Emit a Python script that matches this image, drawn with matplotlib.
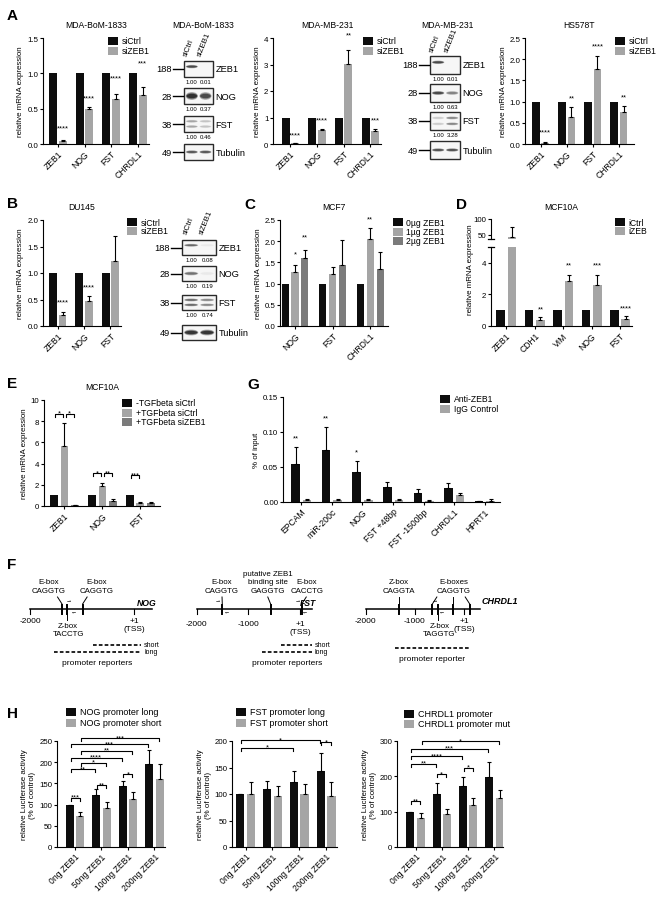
import numpy as np
import matplotlib
matplotlib.use('Agg')
import matplotlib.pyplot as plt
from matplotlib.patches import Rectangle, Ellipse

plt.rcParams['font.family'] = ['Liberation Sans', 'DejaVu Sans']
plt.rcParams['axes.linewidth'] = 0.8

W, H = 660, 904
BLACK, LIGHT, DARK = '#0d0d0d', '#a5a5a5', '#7b7b7b'

# ---------------- data ----------------
# A - qPCR after ZEB1 knockdown
genes_a = ['ZEB1', 'NOG', 'FST', 'CHRDL1']
ctrl_a = [1.0, 1.0, 1.0, 1.0]
bom_si = [0.04, 0.49, 0.63, 0.69]
bom_err = [0.01, 0.04, 0.08, 0.11]
bom_stars = ['****', '****', '****', '***']
bom_star_y = [0.26, 0.69, 0.97, 1.18]
mb231_si = [0.02, 0.52, 3.02, 0.50]
mb231_err = [0.01, 0.04, 0.52, 0.06]
mb231_stars = ['****', '****', '**', '***']
mb231_star_y = [0.44, 1.0, 4.2, 1.0]
hs_si = [0.03, 0.64, 1.78, 0.75]
hs_err = [0.01, 0.24, 0.30, 0.15]
hs_stars = ['****', '**', '****', '**']
hs_star_y = [0.35, 1.14, 2.37, 1.18]

# western blots
blot_rows = ['ZEB1', 'NOG', 'FST', 'Tubulin']
blot_kda = ['188', '28', '38', '49']
blot_lanes = ['siCtrl', 'siZEB1']
bom_quant = [['1.00', '0.01'], ['1.00', '0.37'], ['1.00', '0.46']]
mb231_quant = [['1.00', '0.01'], ['1.00', '0.63'], ['1.00', '3.28']]
du_quant = [['1.00', '0.08'], ['1.00', '0.19'], ['1.00', '0.74']]
bom_bands = [[0.8, 0.0], [1.0, 0.8], [0.3, 0.18], [0.7, 0.7]]
mb231_bands = [[0.8, 0.0], [0.8, 0.45], [0.15, 0.45], [0.75, 0.75]]
du_bands = [[0.6, 0.04], [0.55, 0.04], [0.6, 0.45], [0.95, 0.95]]

# B - DU145
genes_b = ['ZEB1', 'NOG', 'FST']
ctrl_b = [1.0, 1.0, 1.0]
du_si = [0.20, 0.48, 1.22]
du_err = [0.07, 0.09, 0.47]
du_stars = ['****', '****']
du_star_y = [0.50, 0.79]

# C - MCF7 ZEB1 overexpression
genes_c = ['NOG', 'FST', 'CHRDL1']
c_names = ['0\u00b5g ZEB1', '1\u00b5g ZEB1', '2\u00b5g ZEB1']
c_0 = [1.0, 1.0, 1.0]
c_1 = [1.28, 1.22, 2.06]
c_1_err = [0.15, 0.16, 0.26]
c_2 = [1.60, 1.44, 1.34]
c_2_err = [0.20, 0.59, 0.41]
c_stars = [(0, 1, '*', 1.77), (0, 2, '**', 2.16), (2, 1, '**', 2.59)]

# D - MCF10A inducible ZEB1
genes_d = ['ZEB1', 'CDH1', 'VIM', 'NOG', 'FST']
d_ctrl = [1.0, 1.0, 1.0, 1.0, 1.0]
d_izeb = [43.0, 0.39, 2.82, 2.60, 0.47]
d_err = [33.0, 0.21, 0.38, 0.65, 0.17]
d_stars = ['', '**', '**', '***', '****']
d_star_y = [0, 1.28, 4.06, 4.06, 1.33]

# E - MCF10A TGFbeta
genes_e = ['ZEB1', 'NOG', 'FST']
e_names = ['-TGFbeta siCtrl', '+TGFbeta siCtrl', '+TGFbeta siZEB1']
e_minus = [1.0, 1.0, 1.0]
e_plus = [5.66, 1.89, 0.25]
e_plus_err = [2.2, 0.31, 0.13]
e_si = [0.10, 0.47, 0.31]
e_si_err = [0.03, 0.16, 0.09]
e_brackets = [((0, 0), (0, 1), 8.7, '*'), ((0, 1), (0, 2), 8.7, '*'),
              ((1, 0), (1, 1), 3.1, '*'), ((1, 1), (1, 2), 3.1, '**'),
              ((2, 0), (2, 1), 2.9, '***')]

# G - ChIP
sites_g = ['EPCAM', 'miR-200c', 'NOG', 'FST +48bp', 'FST -1500bp', 'CHRDL1', 'HPRT1']
g_names = ['Anti-ZEB1', 'IgG Control']
g_anti = [0.055, 0.074, 0.043, 0.021, 0.013, 0.020, 0.001]
g_anti_err = [0.024, 0.033, 0.015, 0.008, 0.005, 0.007, 0.0005]
g_igg = [0.003, 0.003, 0.003, 0.003, 0.0015, 0.0095, 0.002]
g_igg_err = [0.0015, 0.0015, 0.0015, 0.0015, 0.001, 0.0035, 0.002]
g_stars = ['**', '**', '*']
g_star_y = [0.095, 0.124, 0.075]

# F - promoter maps (bp relative to TSS)
nog_sites = [-1390, -1294, -994]
nog_labels = [('E-box\nCAGGTG', -1640, 'up', [-1390]),
              ('Z-box\nTACCTG', -1269, 'down', [-1294]),
              ('E-box\nCAGGTG', -723, 'up', [-994])]
nog_primers = [-1269, -1154]
nog_reporters = [('short', -795, 130), ('long', -1550, 130)]
fst_sites = [-1505, -570, 32]
fst_labels = [('E-box\nCAGGTG', -1510, 'up', [-1505]),
              ('putative ZEB1\nbinding site\nGAGGTG', -625, 'up', [-570]),
              ('E-box\nCACCTG', 135, 'up', [32])]
fst_primers = [-1586, -1423, -45, 95]
fst_reporters = [('short', -375, 224), ('long', -731, 224)]
chrdl1_sites = [-1324, -648, -526, -222, 110]
chrdl1_labels = [('Z-box\nCAGGTA', -1324, 'up', [-1324]),
                 ('E-boxes\nCAGGTG', -222, 'up', [-648, -222, 110]),
                 ('Z-box\nTAGGTG', -506, 'down', [-526])]
chrdl1_primers = [-594, -458]
chrdl1_reporters = [('', -1406, 95)]

# H - luciferase reporters
doses = ['0ng ZEB1', '50ng ZEB1', '100ng ZEB1', '200ng ZEB1']
nog_long = [100, 122, 143, 195]
nog_long_err = [0, 15, 12, 34]
nog_short = [74, 91, 113, 160]
nog_short_err = [9, 14, 17, 35]
nog_br = [((0, 0), (0, 1), 116, '***'), ((1, 0), (1, 1), 146, '**'), ((2, 0), (2, 1), 172, '*'),
          ((0, 0), (1, 0), 184, '**'), ((0, 1), (1, 1), 199, '*'), ((0, 0), (2, 0), 211, '****'),
          ((0, 1), (2, 1), 227, '**'), ((0, 0), (3, 0), 242, '***'), ((0, 1), (3, 1), 256, '***')]
fst_long = [100, 109, 123, 143]
fst_long_err = [0, 16, 21, 34]
fst_short = [100, 97, 100, 97]
fst_short_err = [22, 19, 19, 25]
fst_br = [((0, 0), (2, 0), 187, '*'), ((0, 0), (3, 0), 201, '*'), ((3, 0), (3, 1), 198, '*')]
chr_wt = [100, 149, 173, 198]
chr_wt_err = [0, 33, 25, 42]
chr_mut = [81, 92, 118, 138]
chr_mut_err = [16, 16, 22, 23]
chr_br = [((0, 0), (0, 1), 130, '**'), ((1, 0), (1, 1), 206, '*'), ((2, 0), (2, 1), 224, '*'),
          ((0, 0), (1, 0), 236, '**'), ((0, 0), (2, 0), 257, '****'), ((0, 0), (3, 0), 278, '***'),
          ((0, 1), (3, 1), 300, '*')]

# ---------------- helpers ----------------
fig = plt.figure(figsize=(W / 100, H / 100), dpi=100)
canvas = fig.add_axes([0, 0, 1, 1])
canvas.set_xlim(0, W)
canvas.set_ylim(H, 0)
canvas.axis('off')
canvas.set_zorder(10)


def px_axes(x0, y0, x1, y1):
    return fig.add_axes([x0 / W, 1 - y1 / H, (x1 - x0) / W, (y1 - y0) / H])


def bar_panel(box, cats, series, errs, colors, width, offsets, xlim, ylim, yticks, ytl,
              ylabel='relative mRNA expression', rot=45):
    ax = px_axes(*box)
    for vals, err, col, off in zip(series, errs, colors, offsets):
        x = np.arange(len(vals)) + off
        ax.bar(x, vals, width, color=col, lw=0, zorder=2)
        if err is not None:
            ax.errorbar(x, vals, yerr=[np.zeros(len(vals)), err], fmt='none', ecolor='black',
                        elinewidth=0.8, capsize=1.5, capthick=0.8, zorder=3)
    ax.set_xlim(*xlim)
    ax.set_ylim(*ylim)
    ax.set_yticks(yticks)
    ax.set_yticklabels(ytl)
    ax.set_xticks(np.arange(len(cats)))
    ax.set_xticklabels(cats, rotation=rot, ha='right', rotation_mode='anchor')
    for s in ('top', 'right'):
        ax.spines[s].set_visible(False)
    ax.tick_params(length=2.2, width=0.8, pad=1.2, labelsize=5.7)
    ax.tick_params(axis='x', labelsize=6.2)
    if ylabel:
        ax.set_ylabel(ylabel, fontsize=5.7, labelpad=2)
    return ax


def star(ax, x, y, s):
    ax.annotate(s, (x, y), xytext=(0, -3.0), textcoords='offset points', ha='center',
                va='baseline', fontsize=5.4, annotation_clip=False)


def bracket(ax, offsets, a, b, y, s):
    x1 = a[0] + offsets[a[1]] + 0.03
    x2 = b[0] + offsets[b[1]] - 0.03
    leg = 3 * np.diff(ax.get_ylim())[0] / (ax.get_position().height * H)
    ax.plot([x1, x1, x2, x2], [y - leg, y, y, y - leg], color='black', lw=0.8, clip_on=False)
    ax.annotate(s, ((x1 + x2) / 2, y), xytext=(0, -0.7), textcoords='offset points', ha='center',
                va='baseline', fontsize=5.5, annotation_clip=False)


def legend(x, ys, labels, colors, size=6.2, w=10):
    for y, lab, col in zip(ys, labels, colors):
        canvas.add_patch(Rectangle((x, y - 4), w, 8, color=col, lw=0))
        canvas.text(x + w + 3.5, y, lab, va='center', ha='left', fontsize=size)


def band(cx, cy, w, h, s):
    if s <= 0.02:
        return
    for k, a in ((1.0, 0.25), (0.8, 0.35), (0.55, 0.6)):
        canvas.add_patch(Ellipse((cx, cy), w * (0.7 + 0.3 * k), h * k, facecolor='black',
                                 alpha=min(1.0, a * s), lw=0))


def blot(x0, x1, tops, row_h, bands, quants, band_h, lane_y):
    lanes = [x0 + (x1 - x0) * 0.27, x0 + (x1 - x0) * 0.74]
    for r, top in enumerate(tops):
        canvas.add_patch(Rectangle((x0, top), x1 - x0, row_h, facecolor='#f6f6f6',
                                   edgecolor='#2a2a2a', lw=1.0))
        cy = top + row_h / 2
        ys = [top + row_h * 0.33, top + row_h * 0.66] if blot_rows[r] == 'FST' else \
             [top + row_h * (0.35 if r == 0 else 0.5)]
        for lx, s in zip(lanes, bands[r]):
            for by in ys:
                band(lx, by, (x1 - x0) * 0.42, band_h[r], s)
        canvas.plot([x0 - 11, x0 - 1], [cy, cy], color='black', lw=1.0)
        canvas.text(x0 - 12, cy, blot_kda[r], ha='right', va='center', fontsize=6.7)
        canvas.text(x1 + 2.5, cy, blot_rows[r], ha='left', va='center', fontsize=6.7)
        if r < len(quants):
            for lx, q in zip(lanes, quants[r]):
                canvas.text(lx, top + row_h + 4.5, q, ha='center', va='center', fontsize=4.3)
    for lx, lab in zip(lanes, blot_lanes):
        canvas.text(lx - 3, lane_y, lab, rotation=68, ha='left', va='bottom',
                    rotation_mode='anchor', fontsize=5.7)


def promoter(x_m2000, scale, end_bp, ticks, sites, labels, primers, reporters, gene, gene_left,
             tick_y=618, rep_label='promoter reporters', rep_y=(646, 653), line_y=610):
    def px(bp):
        return x_m2000 + (bp + 2000) * scale
    canvas.plot([px(-2000), px(end_bp)], [line_y, line_y], color='black', lw=1.1)
    for t in ticks:
        canvas.plot([px(t)] * 2, [line_y, line_y + 5], color='black', lw=0.8)
        lab = '+1\n(TSS)' if t == 1 else str(t)
        canvas.text(px(t), tick_y, lab, ha='center', va='top', fontsize=6, linespacing=1.3)
    for s in sites:
        canvas.plot([px(s)] * 2, [line_y - 4.5, line_y + 4.5], color='black', lw=1.4)
    for text, lbp, side, sl in labels:
        lx = px(lbp)
        if side == 'up':
            canvas.text(lx, 595, text, ha='center', va='bottom', fontsize=5.7, linespacing=1.3)
            for s in sl:
                sx = px(s)
                dx = np.clip(lx - sx, -4.5, 4.5)
                canvas.plot([sx + dx, sx], [598, 605], color='black', lw=0.7)
        else:
            canvas.text(lx, 623, text, ha='center', va='top', fontsize=5.7, linespacing=1.3)
            for s in sl:
                canvas.plot([px(s)] * 2, [614, 621], color='black', lw=0.7)
    for i, p in enumerate(primers):
        canvas.text(px(p), 602 if i % 2 == 0 else 613, '\u21c0' if i % 2 == 0 else '\u21bd',
                    ha='center', va='center', fontsize=3.5, family='DejaVu Sans')
    for (name, b0, b1), ry in zip(reporters, rep_y):
        canvas.plot([px(b0), px(b1)], [ry, ry], color='black', lw=1.2, dashes=(2.2, 1.3))
        if name:
            canvas.text(px(b1) + 3, ry, name, ha='left', va='center', fontsize=5)
    b0, b1 = reporters[-1][1], reporters[-1][2]
    canvas.text((px(b0) + px(b1)) / 2, rep_y[len(reporters) - 1] + 11, rep_label, ha='center',
                va='center', fontsize=6)
    if gene_left:
        canvas.text(px(end_bp) + 1, 602, gene, ha='left', va='center', fontsize=6.5,
                    fontweight='bold', style='italic')
    else:
        canvas.text(px(end_bp) + 4, 603.5, gene, ha='right', va='center', fontsize=6.2,
                    fontweight='bold', style='italic')


def title(box, y, text):
    canvas.text((box[0] + box[2]) / 2, y, text, ha='center', va='center', fontsize=6.2)


# ---------------- panel A ----------------
two = (-0.18, 0.18)
box = (43, 39, 149, 145)
ax = bar_panel(box, genes_a, [ctrl_a, bom_si], [None, bom_err], [BLACK, LIGHT], 0.3, two,
               (-0.56, 3.42), (0, 1.5), [0, 0.5, 1.0, 1.5], ['0.0', '0.5', '1.0', '1.5'])
for i, (s, y) in enumerate(zip(bom_stars, bom_star_y)):
    star(ax, i + two[1], y, s)
title(box, 25, 'MDA-BoM-1833')
legend(108, [42, 52], ['siCtrl', 'siZEB1'], [BLACK, LIGHT])

box = (273, 39, 381, 145)
ax = bar_panel(box, genes_a, [ctrl_a, mb231_si], [None, mb231_err], [BLACK, LIGHT], 0.3, two,
               (-0.65, 3.4), (0, 4), [0, 1, 2, 3, 4], ['0', '1', '2', '3', '4'])
for i, (s, y) in enumerate(zip(mb231_stars, mb231_star_y)):
    star(ax, i + two[1], y, s)
title(box, 25, 'MDA-MB-231')
legend(363, [42, 52], ['siCtrl', 'siZEB1'], [BLACK, LIGHT])

box = (525, 39, 634, 145)
ax = bar_panel(box, genes_a, [ctrl_a, hs_si], [None, hs_err], [BLACK, LIGHT], 0.3, two,
               (-0.6, 3.58), (0, 2.5), [0, 0.5, 1.0, 1.5, 2.0, 2.5],
               ['0.0', '0.5', '1.0', '1.5', '2.0', '2.5'])
for i, (s, y) in enumerate(zip(hs_stars, hs_star_y)):
    star(ax, i + two[1], y, s)
title(box, 25, 'HS578T')
legend(615, [42, 52], ['siCtrl', 'siZEB1'], [BLACK, LIGHT])

canvas.text(203, 25, 'MDA-BoM-1833', ha='center', va='center', fontsize=6.2)
blot(184, 213, [62, 89, 117, 145], 16, bom_bands, bom_quant, [3.5, 8, 3, 3.5], 58)
canvas.text(447, 25, 'MDA-MB-231', ha='center', va='center', fontsize=6.2)
blot(430, 460, [57, 85, 113, 142], 18, mb231_bands, mb231_quant, [3.5, 4, 3, 3.5], 54)

# ---------------- panel B ----------------
box = (43, 221, 121, 327)
ax = bar_panel(box, genes_b, [ctrl_b, du_si], [None, du_err], [BLACK, LIGHT], 0.3, two,
               (-0.56, 2.4), (0, 2.0), [0, 0.5, 1.0, 1.5, 2.0], ['0.0', '0.5', '1.0', '1.5', '2.0'])
for i, (s, y) in enumerate(zip(du_stars, du_star_y)):
    star(ax, i + two[1], y, s)
title(box, 207, 'DU145')
legend(127, [223, 232], ['siCtrl', 'siZEB1'], [BLACK, LIGHT])
blot(182, 216, [241, 267, 296, 326], 15, du_bands, du_quant, [3, 4, 3, 6], 236)

# ---------------- panel C ----------------
three_c = (-0.26, 0.0, 0.26)
box = (280, 221, 388, 327)
ax = bar_panel(box, genes_c, [c_0, c_1, c_2], [None, c_1_err, c_2_err], [BLACK, LIGHT, DARK],
               0.19, three_c, (-0.4, 2.47), (0, 2.5), [0, 0.5, 1.0, 1.5, 2.0, 2.5],
               ['0.0', '0.5', '1.0', '1.5', '2.0', '2.5'])
for g, sidx, s, y in c_stars:
    star(ax, g + three_c[sidx], y, s)
title(box, 207, 'MCF7')
legend(393, [223, 232.5, 242], c_names, [BLACK, LIGHT, DARK])

# ---------------- panel D (broken axis) ----------------
two_d = (-0.2, 0.2)
box = (491, 248, 632, 327)
ax_lo = bar_panel(box, genes_d, [d_ctrl, d_izeb], [None, d_err], [BLACK, LIGHT], 0.3, two_d,
                  (-0.54, 4.42), (0, 5), [0, 2, 4], ['0', '2', '4'], ylabel=None)
for i, (s, y) in enumerate(zip(d_stars, d_star_y)):
    if s:
        star(ax_lo, i + two_d[1], y, s)
ax_hi = bar_panel((491, 220, 632, 240), genes_d, [d_ctrl, d_izeb], [None, d_err], [BLACK, LIGHT],
                  0.3, two_d, (-0.54, 4.42), (36, 100), [50, 100], ['50', '100'], ylabel=None)
ax_hi.spines['bottom'].set_visible(False)
ax_hi.set_xticks([])
for y in (240, 248):
    canvas.plot([488, 494], [y, y], color='black', lw=0.9)
canvas.text(470, 270, 'relative mRNA expression', rotation=90, ha='center', va='center',
            fontsize=5.7)
title((491, 0, 632), 207, 'MCF10A')
legend(615, [223, 232], ['iCtrl', 'iZEB'], [BLACK, LIGHT])

# ---------------- panel E ----------------
three_e = (-0.275, 0.0, 0.275)
box = (44, 401, 160, 507)
ax = bar_panel(box, genes_e, [e_minus, e_plus, e_si], [None, e_plus_err, e_si_err],
               [BLACK, LIGHT, DARK], 0.2, three_e, (-0.54, 2.52), (0, 10), [0, 2, 4, 6, 8, 10],
               ['0', '2', '4', '6', '8', '10'])
for a, b, y, s in e_brackets:
    bracket(ax, three_e, a, b, y, s)
title(box, 388, 'MCF10A')
legend(122, [404, 413.5, 423], e_names, [BLACK, LIGHT, DARK])

# ---------------- panel G ----------------
two_g = (-0.19, 0.19)
box = (283, 398, 500, 503)
ax = bar_panel(box, sites_g, [g_anti, g_igg], [g_anti_err, g_igg_err], [BLACK, LIGHT], 0.28,
               two_g, (-0.6, 6.5), (0, 0.15), [0, 0.05, 0.10, 0.15],
               ['0.00', '0.05', '0.10', '0.15'], ylabel='% of input')
for i, (s, y) in enumerate(zip(g_stars, g_star_y)):
    star(ax, i + two_g[0], y, s)
legend(440, [400, 410], g_names, [BLACK, LIGHT])

# ---------------- panel F ----------------
promoter(30.3, 0.052, 346, [-2000, 1], nog_sites, nog_labels, nog_primers, nog_reporters,
         'NOG', False)
promoter(196.7, 0.0517, 236, [-2000, -1000, 1], fst_sites, fst_labels, fst_primers,
         fst_reporters, 'FST', False, tick_y=621)
promoter(365.7, 0.0493, 322, [-2000, -1000, 1], chrdl1_sites, chrdl1_labels, chrdl1_primers,
         chrdl1_reporters, 'CHRDL1', True, rep_label='promoter reporter', rep_y=(649,))

# ---------------- panel H ----------------
two_h = (-0.2, 0.2)
luc_label = 'relative Luciferase activity\n(% of control)'
ax = bar_panel((57, 742, 165, 848), doses, [nog_long, nog_short], [nog_long_err, nog_short_err],
               [BLACK, LIGHT], 0.31, two_h, (-0.68, 3.4), (0, 250), [0, 50, 100, 150, 200, 250],
               ['0', '50', '100', '150', '200', '250'], ylabel=luc_label)
for a, b, y, s in nog_br:
    bracket(ax, two_h, a, b, y, s)
legend(66, [713, 724], ['NOG promoter long', 'NOG promoter short'], [BLACK, LIGHT], size=6.5)

ax = bar_panel((232, 742, 337, 848), doses, [fst_long, fst_short], [fst_long_err, fst_short_err],
               [BLACK, LIGHT], 0.31, two_h, (-0.51, 3.41), (0, 200), [0, 50, 100, 150, 200],
               ['0', '50', '100', '150', '200'], ylabel=luc_label)
for a, b, y, s in fst_br:
    bracket(ax, two_h, a, b, y, s)
legend(236, [713, 724], ['FST promoter long', 'FST promoter short'], [BLACK, LIGHT], size=6.5)

ax = bar_panel((397, 742, 503, 848), doses, [chr_wt, chr_mut], [chr_wt_err, chr_mut_err],
               [BLACK, LIGHT], 0.31, two_h, (-0.71, 3.33), (0, 300), [0, 100, 200, 300],
               ['0', '100', '200', '300'], ylabel=luc_label)
for a, b, y, s in chr_br:
    bracket(ax, two_h, a, b, y, s)
legend(404, [715, 725], ['CHRDL1 promoter', 'CHRDL1 promoter mut'], [BLACK, LIGHT], size=6.5)

# ---------------- panel letters ----------------
for lab, x, y in [('A', 7, 16), ('B', 7, 204), ('C', 244, 205), ('D', 456, 205), ('E', 7, 384),
                  ('G', 247, 385), ('F', 7, 565), ('H', 7, 714)]:
    canvas.text(x, y, lab, fontsize=11, fontweight='bold', ha='left', va='center')

fig.savefig('out.png', dpi=100)
